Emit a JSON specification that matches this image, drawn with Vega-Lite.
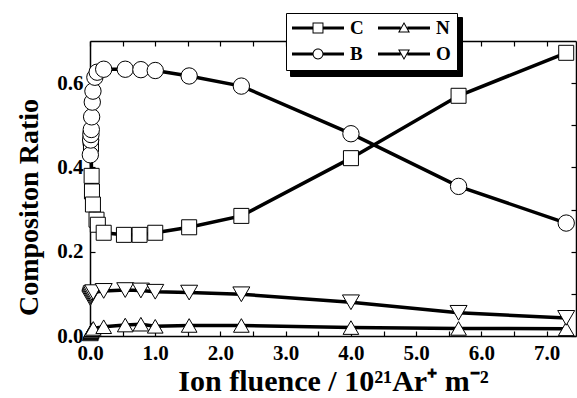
{
  "$schema": "https://vega.github.io/schema/vega-lite/v6.json",
  "width": 486,
  "height": 295,
  "autosize": {"type": "none"},
  "padding": {"left": 90, "top": 41, "right": 1, "bottom": 62},
  "background": "white",
  "config": {
    "font": "Liberation Serif",
    "view": {"stroke": null},
    "axis": {
      "domainColor": "black",
      "domainWidth": 1.5,
      "tickColor": "black",
      "tickWidth": 1.2,
      "tickSize": -5,
      "grid": false,
      "labelFont": "Liberation Serif",
      "labelFontWeight": "bold",
      "labelFontSize": 21,
      "labelColor": "black",
      "labelFlush": false,
      "labelOverlap": false,
      "titleFont": "Liberation Serif",
      "titleFontWeight": "bold",
      "titleFontSize": 28,
      "titleColor": "black"
    }
  },
  "data": {
    "values": [
      {"s": "C", "x": 0.01, "y": 0.47},
      {"s": "C", "x": 0.015, "y": 0.455},
      {"s": "C", "x": 0.025, "y": 0.38},
      {"s": "C", "x": 0.03, "y": 0.343},
      {"s": "C", "x": 0.045, "y": 0.312},
      {"s": "C", "x": 0.1, "y": 0.276},
      {"s": "C", "x": 0.12, "y": 0.264},
      {"s": "C", "x": 0.21, "y": 0.245},
      {"s": "C", "x": 0.52, "y": 0.24},
      {"s": "C", "x": 0.76, "y": 0.24},
      {"s": "C", "x": 1.0, "y": 0.245},
      {"s": "C", "x": 1.52, "y": 0.258},
      {"s": "C", "x": 2.32, "y": 0.285},
      {"s": "C", "x": 4.0, "y": 0.422},
      {"s": "C", "x": 5.65, "y": 0.57},
      {"s": "C", "x": 7.3, "y": 0.672},
      {"s": "N", "x": 0.005, "y": 0.005},
      {"s": "N", "x": 0.01, "y": 0.008},
      {"s": "N", "x": 0.015, "y": 0.01},
      {"s": "N", "x": 0.02, "y": 0.012},
      {"s": "N", "x": 0.03, "y": 0.015},
      {"s": "N", "x": 0.05, "y": 0.018},
      {"s": "N", "x": 0.21, "y": 0.022},
      {"s": "N", "x": 0.54, "y": 0.026},
      {"s": "N", "x": 0.78, "y": 0.028},
      {"s": "N", "x": 1.0, "y": 0.023},
      {"s": "N", "x": 1.52, "y": 0.025},
      {"s": "N", "x": 2.32, "y": 0.025},
      {"s": "N", "x": 4.0, "y": 0.02},
      {"s": "N", "x": 5.65, "y": 0.018},
      {"s": "N", "x": 7.3, "y": 0.017},
      {"s": "B", "x": 0.005, "y": 0.43},
      {"s": "B", "x": 0.01, "y": 0.465},
      {"s": "B", "x": 0.015, "y": 0.478},
      {"s": "B", "x": 0.02, "y": 0.49},
      {"s": "B", "x": 0.025, "y": 0.52},
      {"s": "B", "x": 0.035, "y": 0.555},
      {"s": "B", "x": 0.045, "y": 0.581},
      {"s": "B", "x": 0.075, "y": 0.614},
      {"s": "B", "x": 0.11, "y": 0.626},
      {"s": "B", "x": 0.21, "y": 0.633},
      {"s": "B", "x": 0.54, "y": 0.633},
      {"s": "B", "x": 0.78, "y": 0.632},
      {"s": "B", "x": 1.0, "y": 0.63},
      {"s": "B", "x": 1.52, "y": 0.617},
      {"s": "B", "x": 2.32, "y": 0.593},
      {"s": "B", "x": 4.0, "y": 0.48},
      {"s": "B", "x": 5.65, "y": 0.355},
      {"s": "B", "x": 7.3, "y": 0.268},
      {"s": "O", "x": 0.005, "y": 0.09},
      {"s": "O", "x": 0.01, "y": 0.093},
      {"s": "O", "x": 0.015, "y": 0.096},
      {"s": "O", "x": 0.02, "y": 0.099},
      {"s": "O", "x": 0.03, "y": 0.102},
      {"s": "O", "x": 0.05, "y": 0.104},
      {"s": "O", "x": 0.21, "y": 0.107},
      {"s": "O", "x": 0.54, "y": 0.109},
      {"s": "O", "x": 0.78, "y": 0.108},
      {"s": "O", "x": 1.0, "y": 0.105},
      {"s": "O", "x": 1.52, "y": 0.103},
      {"s": "O", "x": 2.32, "y": 0.099},
      {"s": "O", "x": 4.0, "y": 0.08},
      {"s": "O", "x": 5.65, "y": 0.055},
      {"s": "O", "x": 7.3, "y": 0.043}
    ]
  },
  "layer": [
    {
      "mark": {"type": "line", "strokeWidth": 3.5, "color": "black"},
      "encoding": {
        "x": {
          "field": "x", "type": "quantitative",
          "scale": {"domain": [0, 7.45], "nice": false, "zero": false},
          "axis": {
            "orient": "bottom",
            "values": [0, 0.5, 1, 1.5, 2, 2.5, 3, 3.5, 4, 4.5, 5, 5.5, 6, 6.5, 7],
            "labelExpr": "datum.value % 1 === 0 ? format(datum.value, '.1f') : ''",
            "labelPadding": 11,
            "title": "Ion fluence / 10²¹Ar⁺ m⁻²",
            "titleFontSize": 30,
            "titlePadding": 3
          }
        },
        "y": {
          "field": "y", "type": "quantitative",
          "scale": {"domain": [0, 0.7], "nice": false, "zero": false},
          "axis": {
            "orient": "left",
            "values": [0, 0.1, 0.2, 0.3, 0.4, 0.5, 0.6],
            "labelExpr": "round(datum.value * 10) % 2 === 0 ? format(datum.value, '.1f') : ''",
            "labelPadding": 12,
            "title": "Compositon Ratio",
            "titlePadding": 13,
            "titleY": 166
          }
        },
        "detail": {"field": "s"},
        "order": {"field": "x"}
      }
    },
    {
      "mark": {"type": "point", "filled": true, "fill": "white", "stroke": "black", "strokeWidth": 1, "opacity": 1},
      "encoding": {
        "x": {
          "field": "x", "type": "quantitative",
          "axis": {
            "orient": "top",
            "values": [0, 0.5, 1, 1.5, 2, 2.5, 3, 3.5, 4, 4.5, 5, 5.5, 6, 6.5, 7],
            "labels": false,
            "title": null
          }
        },
        "y": {
          "field": "y", "type": "quantitative",
          "axis": {
            "orient": "right",
            "values": [0, 0.1, 0.2, 0.3, 0.4, 0.5, 0.6],
            "labels": false,
            "title": null
          }
        },
        "shape": {
          "field": "s", "type": "nominal",
          "scale": {"domain": ["C", "N", "B", "O"], "range": ["square", "triangle-up", "circle", "triangle-down"]},
          "legend": null
        },
        "size": {
          "field": "s", "type": "nominal",
          "scale": {"domain": ["C", "N", "B", "O"], "range": [225, 289, 240, 289]},
          "legend": null
        }
      }
    },
    {
      "transform": [{"filter": "datum.x < -100"}],
      "mark": {"type": "point", "filled": true, "strokeWidth": 0, "opacity": 1},
      "encoding": {
        "color": {
          "field": "s", "type": "nominal",
          "scale": {"domain": ["C", "B", "N", "O"], "range": ["black", "black", "black", "black"]},
          "legend": {
            "orient": "none",
            "legendX": 200,
            "legendY": -24,
            "columns": 2,
            "title": null,
            "symbolSize": 2704,
            "symbolStrokeWidth": 0,
            "symbolType": "square",
            "symbolFillColor": "black",
            "symbolOffset": 0,
            "clipHeight": 22,
            "rowPadding": 3,
            "columnPadding": 14,
            "labelExpr": "''",
            "labelFontSize": 19,
            "labelOffset": 21,
            "padding": 6,
            "strokeColor": "black",
            "fillColor": "black"
          }
        },
        "shape": {
          "field": "s", "type": "nominal",
          "scale": {
            "domain": ["C", "B", "N", "O"],
            "range": [
              "M-1,-0.058H-0.21V0.058H-1Z M0.21,-0.058H1V0.058H0.21Z M-0.21,-0.21H0.21V0.21H-0.21Z M-0.172,-0.172V0.172H0.172V-0.172Z",
              "M-1,-0.058H-0.2V0.058H-1Z M0.2,-0.058H1V0.058H0.2Z M-0.21,0A0.21,0.21,0,1,1,0.21,0A0.21,0.21,0,1,1,-0.21,0Z M-0.172,0A0.172,0.172,0,1,0,0.172,0A0.172,0.172,0,1,0,-0.172,0Z",
              "M-1,-0.058H-0.13V0.058H-1Z M0.13,-0.058H1V0.058H0.13Z M0,-0.23L0.23,0.17L-0.23,0.17Z M0,-0.15L-0.161,0.13L0.161,0.13Z",
              "M-1,-0.058H-0.13V0.058H-1Z M0.13,-0.058H1V0.058H0.13Z M0,0.23L-0.23,-0.17L0.23,-0.17Z M0,0.15L0.161,-0.13L-0.161,-0.13Z"
            ]
          },
          "legend": {
            "orient": "none",
            "legendX": 196,
            "legendY": -28,
            "columns": 2,
            "title": null,
            "symbolSize": 2704,
            "symbolStrokeWidth": 0,
            "symbolFillColor": "black",
            "symbolOffset": 0,
            "clipHeight": 18,
            "rowPadding": 7,
            "columnPadding": 14,
            "labelFont": "Liberation Serif",
            "labelFontWeight": "bold",
            "labelFontSize": 19,
            "labelColor": "black",
            "labelOffset": 6,
            "padding": 6,
            "strokeColor": "black",
            "fillColor": "white"
          }
        }
      }
    }
  ],
  "resolve": {
    "scale": {"shape": "independent"},
    "axis": {"x": "independent", "y": "independent"}
  }
}
